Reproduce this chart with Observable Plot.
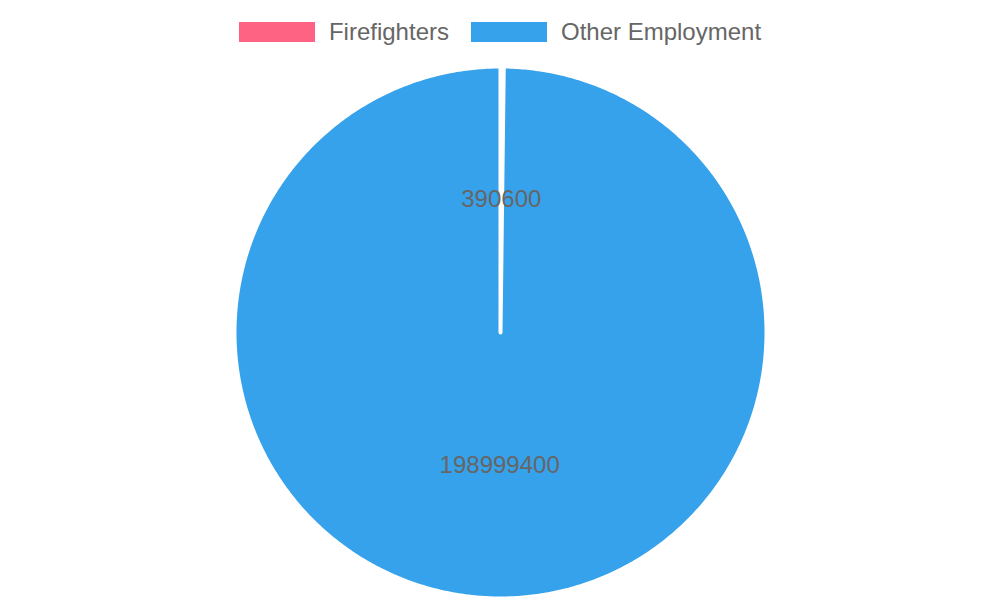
<!DOCTYPE html>
<html>
<head>
<meta charset="utf-8">
<script src="https://cdn.jsdelivr.net/npm/d3@7"></script>
<script src="https://cdn.jsdelivr.net/npm/@observablehq/plot@0.6"></script>
<style>
  html, body { margin: 0; padding: 0; background: #fff; }
  body { width: 1000px; height: 600px; overflow: hidden; font-family: "Liberation Sans", Arial, sans-serif; }
  #legend { height: 56px; box-sizing: border-box; padding-top: 8px; display: flex; justify-content: center; align-items: center; gap: 22px; font-size: 24px; color: #666; }
  .item { display: flex; align-items: center; }
  .sw { width: 76px; height: 20px; margin-right: 14px; }
  #chart svg { display: block; }
</style>
</head>
<body>
<div id="legend"></div>
<div id="chart"></div>
<script>
const categories = ["Firefighters", "Other Employment"];
const values = [390600, 198999400];
const colors = ["#ff6384", "#36a2eb"];

const slices = categories.map((name, i) => ({name, value: values[i], color: colors[i]}));
const arcs = d3.pie().sort(null).value(d => d.value)(slices);

// polygon outline for each slice (center -> arc -> center), in unit coordinates
const outline = [];
arcs.forEach(a => {
  const n = Math.max(2, Math.ceil((a.endAngle - a.startAngle) / (Math.PI / 360)));
  outline.push({name: a.data.name, color: a.data.color, x: 0, y: 0});
  for (let k = 0; k <= n; k++) {
    const t = a.startAngle + (a.endAngle - a.startAngle) * k / n;
    outline.push({name: a.data.name, color: a.data.color, x: Math.sin(t), y: Math.cos(t)});
  }
  outline.push({name: a.data.name, color: a.data.color, x: 0, y: 0});
});

const labels = arcs.map(a => {
  const m = (a.startAngle + a.endAngle) / 2;
  return {text: String(a.data.value), x: 0.5 * Math.sin(m), y: 0.5 * Math.cos(m)};
});

// legend
const legend = document.getElementById("legend");
slices.forEach(s => {
  const it = document.createElement("div");
  it.className = "item";
  const sw = document.createElement("div");
  sw.className = "sw";
  sw.style.background = s.color;
  const tx = document.createElement("span");
  tx.textContent = s.name;
  it.appendChild(sw); it.appendChild(tx);
  legend.appendChild(it);
});

const plot = Plot.plot({
  width: 1000,
  height: 544,
  margin: 0,
  x: {domain: [-1, 1], range: [234, 766], axis: null},
  y: {domain: [-1, 1], range: [542, 10], axis: null},
  marks: [
    Plot.line(outline, {x: "x", y: "y", z: "name", fill: "color", stroke: "white", strokeWidth: 4, strokeLinejoin: "round", curve: "linear"}),
    Plot.text(labels, {x: "x", y: "y", text: "text", fontSize: 24, fill: "#666", fontFamily: "Liberation Sans, Arial, sans-serif"})
  ]
});
document.getElementById("chart").appendChild(plot);
</script>
</body>
</html>
